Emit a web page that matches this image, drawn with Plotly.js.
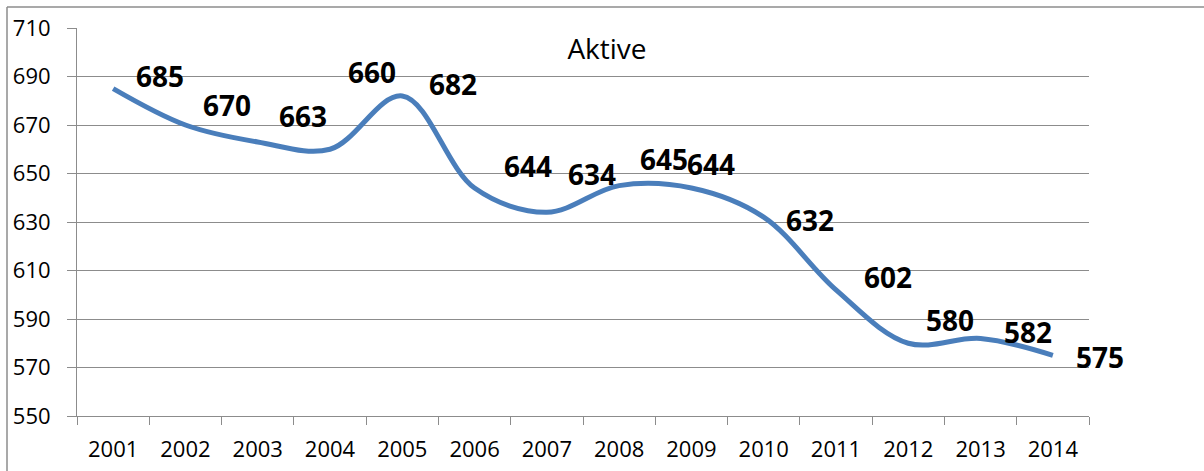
<!DOCTYPE html>
<html>
<head>
<meta charset="utf-8">
<script src="https://cdn.plot.ly/plotly-3.0.1.min.js"></script>
<style>html,body{margin:0;padding:0;background:#fff;}#chart{width:1204px;height:471px;}</style>
</head>
<body>
<div id="chart"></div>
<script>
// ---- data ----
const years = ["2001","2002","2003","2004","2005","2006","2007","2008","2009","2010","2011","2012","2013","2014"];
const aktive = [685, 670, 663, 660, 682, 644, 634, 645, 644, 632, 602, 580, 582, 575];
const yTicks = [550, 570, 590, 610, 630, 650, 670, 690, 710];
const chartTitle = "Aktive";

// ---- layout config ----
const W = 1204, H = 471;
const M = {l: 77, r: 115, t: 28, b: 55};
const pw = W - M.l - M.r, ph = H - M.t - M.b;
const pxX = p => (p - M.l) / pw;
const pxY = p => (H - M.b - p) / ph;

const idx = years.map((_, i) => i);
const bounds = years.map((_, i) => i - 0.5).concat([years.length - 0.5]);

// label pixel offsets (label placement as in the reference)
const labelDx = [47, 42, 45, 42, 51, 53, 45, 45, 20, 46, 52, 42, 47, 47];
const labelDy = [13, 20, 26, 77, 12, 22, 38, 27, 24, -3, 13, 23, 6, -2];

const font = "'Open Sans', 'Liberation Sans', sans-serif";
const gridCol = "#8c8c8c";

const annotations = idx.map(i => ({
  x: i, y: aktive[i], xref: "x", yref: "y",
  text: String(aktive[i]), showarrow: false,
  xshift: labelDx[i], yshift: labelDy[i],
  xanchor: "center", yanchor: "middle",
  font: {family: font, size: 28, color: "#000", weight: 700}
}));

const trace = {
  x: idx, y: aktive, type: "scatter", mode: "lines",
  line: {shape: "spline", smoothing: 1, color: "#4A7EBB", width: 5},
  hoverinfo: "y"
};

const layout = {
  width: W, height: H,
  margin: M,
  paper_bgcolor: "#fff", plot_bgcolor: "#fff",
  showlegend: false,
  font: {family: font, color: "#000"},
  title: {
    text: chartTitle, x: pxX(607), xref: "paper", xanchor: "center",
    y: 1 - 49 / H, yref: "container", yanchor: "middle",
    font: {family: font, size: 28, color: "#000"}
  },
  xaxis: {
    type: "linear", range: [-0.5, years.length - 0.5],
    tickmode: "array", tickvals: idx, ticktext: years, tickangle: 0,
    showgrid: false, showline: true, linecolor: gridCol, linewidth: 1,
    ticks: "", 
    minor: {tickmode: "array", tickvals: bounds, ticks: "outside", ticklen: 8, tickcolor: gridCol, tickwidth: 1, showgrid: false},
    tickfont: {family: font, size: 22, color: "#000"},
    ticklabelstandoff: 14,
    fixedrange: true, zeroline: false
  },
  yaxis: {
    range: [550, 710], tickmode: "array", tickvals: yTicks,
    ticktext: yTicks.map(String),
    showgrid: true, gridcolor: gridCol, gridwidth: 1,
    showline: true, linecolor: gridCol, linewidth: 1,
    ticks: "outside", ticklen: 9, tickcolor: gridCol, tickwidth: 1,
    tickfont: {family: font, size: 22, color: "#000"},
    ticklabelstandoff: 12,
    zeroline: false, fixedrange: true
  },
  annotations: annotations,
  shapes: [
    {type: "line", xref: "paper", yref: "paper", x0: pxX(7), x1: pxX(7), y0: pxY(7), y1: pxY(H + 5),
     line: {color: gridCol, width: 1.5}},
    {type: "line", xref: "paper", yref: "paper", x0: pxX(7), x1: pxX(W + 5), y0: pxY(7), y1: pxY(7),
     line: {color: gridCol, width: 1.5}}
  ]
};

Plotly.newPlot("chart", [trace], layout, {displayModeBar: false, staticPlot: true});
</script>
</body>
</html>
